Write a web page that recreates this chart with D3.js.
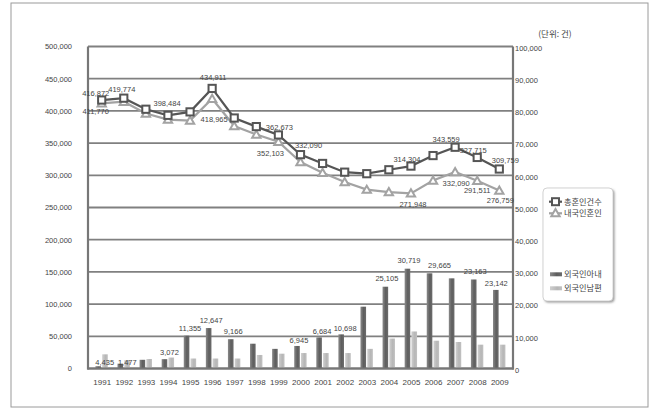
<!DOCTYPE html>
<html><head><meta charset="utf-8">
<script src="https://cdn.jsdelivr.net/npm/d3@7"></script>
<style>
html,body{margin:0;padding:0;background:#fff;}
svg text{font-family:"Liberation Sans","Noto Sans CJK KR",sans-serif;fill:#444;}
</style></head>
<body><svg id="c" width="664" height="416"></svg>
<script>
// ---- data ----
const years = [1991,1992,1993,1994,1995,1996,1997,1998,1999,2000,2001,2002,2003,2004,2005,2006,2007,2008,2009];
const totalMarriages = [416872,419774,402593,393121,398484,434911,388960,375616,362673,332090,318407,304877,302503,308598,314304,330634,343559,327715,309759];
const domesticMarriages = [411800,414240,396048,386505,384990,418965,376512,363428,352103,320485,303884,289675,277727,273958,271948,291875,305068,291511,276459];
const foreignWife = [700,1500,2700,2900,10200,12560,9100,7700,6100,7000,9650,10600,19200,25400,31000,29560,28000,27650,24400];
const foreignHusband = [4400,2600,2950,3400,3100,3100,3100,4200,4600,4800,4800,4800,6100,9300,11500,8630,8230,7400,7400];
const leftTicks = [0,50000,100000,150000,200000,250000,300000,350000,400000,450000,500000];
const rightTicks = [0,10000,20000,30000,40000,50000,60000,70000,80000,90000,100000];
const seriesNames = ["총혼인건수","내국인혼인","외국인아내","외국인남편"];
const unitLabel = "(단위: 건)";
const totalLabels = [[1991,"416,872"],[1992,"419,774"],[1995,"398,484"],[1996,"434,911"],[1999,"362,673"],[2000,"332,090"],[2005,"314,304"],[2007,"343,559"],[2008,"327,715"],[2009,"309,759"]];
const domesticLabels = [[1991,"411,770"],[1996,"418,965"],[1999,"352,103"],[2005,"271,948"],[2007,"332,090"],[2008,"291,511"],[2009,"276,759"]];
const wifeLabels = [[1991,"4,435"],[1992,"1,477"],[1994,"3,072"],[1995,"11,355"],[1996,"12,647"],[1997,"9,166"],[2000,"6,945"],[2001,"6,684"],[2002,"10,698"],[2004,"25,105"],[2005,"30,719"],[2006,"29,665"],[2008,"23,163"],[2009,"23,142"]];

// ---- layout (label nudges, px) ----
const totalNudge = {1991:[-6,-7],1992:[-2,-8.5],1995:[-23,-9],1996:[1,-11],1999:[1,-8],2000:[8,-9],2005:[-4,-7],2007:[-9,-8],2008:[-4,-7],2009:[6,-9]};
const domNudge = {1991:[-6,8],1996:[2,21],1999:[-8,12],2005:[2,11],2007:[1,11],2008:[0,10],2009:[1,10]};
const wifeNudge = {1991:[3,-4],1992:[3.5,-1.5],1994:[1.5,-7],1995:[0,-7],1996:[-1,-8],1997:[-1,-8],2000:[-1.5,-6],2001:[-0.5,-6],2002:[0.5,-6],2004:[-2,-8],2005:[-2,-8],2006:[6.5,-8],2008:[-2,-8],2009:[-3,-7]};

const svg = d3.select("#c");
const L = 88, R = 513, T = 46.5, B = 368.5;
const x = d3.scalePoint().domain(years).range([L, R]).padding(0.62);
const yL = d3.scaleLinear().domain([0,500000]).range([B, T]);
const yR = d3.scaleLinear().domain([0,100000]).range([B, T]);

// defs
const defs = svg.append("defs");
const g1 = defs.append("linearGradient").attr("id","gDark");
g1.append("stop").attr("offset","0%").attr("stop-color","#8a8a8a");
g1.append("stop").attr("offset","55%").attr("stop-color","#5e5e5e");
g1.append("stop").attr("offset","100%").attr("stop-color","#6c6c6c");
const g2 = defs.append("linearGradient").attr("id","gLight");
g2.append("stop").attr("offset","0%").attr("stop-color","#cfcfcf");
g2.append("stop").attr("offset","60%").attr("stop-color","#b6b6b6");
g2.append("stop").attr("offset","100%").attr("stop-color","#c2c2c2");
const sh = defs.append("filter").attr("id","shadow").attr("x","-20%").attr("y","-20%").attr("width","140%").attr("height","140%");
sh.append("feGaussianBlur").attr("stdDeviation",1.2);

// outer frame
svg.append("rect").attr("x",11).attr("y",3).attr("width",637).attr("height",404)
  .attr("fill","none").attr("stroke","#9a9a9a").attr("stroke-width",1);

// gridlines
svg.append("g").selectAll("line").data(leftTicks).join("line")
  .attr("x1",L).attr("x2",R).attr("y1",d=>yL(d)).attr("y2",d=>yL(d))
  .attr("stroke","#808080").attr("stroke-width",1.8);
// plot frame verticals
svg.append("line").attr("x1",L).attr("x2",L).attr("y1",T).attr("y2",B+1).attr("stroke","#777").attr("stroke-width",2.2);
svg.append("line").attr("x1",R).attr("x2",R).attr("y1",T).attr("y2",B+1).attr("stroke","#777").attr("stroke-width",2.2);

// axes
const fmt = d3.format(",");
const axL = svg.append("g").attr("transform",`translate(${L},0)`)
  .call(d3.axisLeft(yL).tickValues(leftTicks).tickFormat(fmt).tickSize(0).tickPadding(16));
const axR = svg.append("g").attr("transform",`translate(${R},0)`)
  .call(d3.axisRight(yR).tickValues(rightTicks).tickFormat(fmt).tickSize(0).tickPadding(2));
const axB = svg.append("g").attr("transform",`translate(0,${B})`)
  .call(d3.axisBottom(x).tickSize(0).tickPadding(10.5));
[axL,axR,axB].forEach(a=>{a.select(".domain").remove();a.selectAll("text").attr("font-size",7.5).attr("fill","#444").style("font-family","Liberation Sans");});
axB.selectAll("text").attr("font-size",8);
axR.selectAll("text").attr("dy","0.5em");

// bars
const bw = 5.6;
svg.append("g").selectAll("rect").data(years).join("rect")
  .attr("x",(d)=>x(d)-bw-0.7).attr("width",bw)
  .attr("y",(d,i)=>yR(foreignWife[i])).attr("height",(d,i)=>B-yR(foreignWife[i]))
  .attr("fill","url(#gDark)");
svg.append("g").selectAll("rect").data(years).join("rect")
  .attr("x",(d)=>x(d)+0.5).attr("width",bw)
  .attr("y",(d,i)=>yR(foreignHusband[i])).attr("height",(d,i)=>B-yR(foreignHusband[i]))
  .attr("fill","url(#gLight)");
// bottom axis line over bars
svg.append("line").attr("x1",L-1).attr("x2",R+1).attr("y1",B).attr("y2",B).attr("stroke","#777").attr("stroke-width",2.2);

// lines
const lineGen = d3.line().x(d=>x(d[0])).y(d=>yL(d[1]));
const domPts = years.map((y,i)=>[y,domesticMarriages[i]]);
const totPts = years.map((y,i)=>[y,totalMarriages[i]]);
const triPath = d3.symbol().type(d3.symbolTriangle).size(30);
svg.append("path").datum(domPts).attr("d",lineGen).attr("fill","none").attr("stroke","#a3a3a3").attr("stroke-width",2.2);
svg.append("g").selectAll("path").data(domPts).join("path")
  .attr("d",triPath).attr("transform",d=>`translate(${x(d[0])},${yL(d[1])+0.8})`)
  .attr("fill","#fff").attr("stroke","#a3a3a3").attr("stroke-width",2);
svg.append("path").datum(totPts).attr("d",lineGen).attr("fill","none").attr("stroke","#555").attr("stroke-width",2.2);
svg.append("g").selectAll("rect").data(totPts).join("rect")
  .attr("x",d=>x(d[0])-3.6).attr("y",d=>yL(d[1])-3.6).attr("width",7.2).attr("height",7.2)
  .attr("fill","#fff").attr("stroke","#555").attr("stroke-width",2);

// value labels
function labels(arr, valFn, nudge, yscale){
  svg.append("g").selectAll("text").data(arr).join("text")
    .attr("x",d=>x(d[0])+nudge[d[0]][0])
    .attr("y",d=>yscale(valFn(d[0]))+nudge[d[0]][1])
    .attr("dy","0.35em").attr("text-anchor","middle").attr("font-size",7.5).attr("fill","#444")
    .text(d=>d[1]);
}
labels(totalLabels, y=>totalMarriages[years.indexOf(y)], totalNudge, yL);
labels(domesticLabels, y=>domesticMarriages[years.indexOf(y)], domNudge, yL);
labels(wifeLabels, y=>foreignWife[years.indexOf(y)], wifeNudge, yR);

// unit label
svg.append("text").attr("x",555).attr("y",34).attr("dy","0.35em").attr("text-anchor","middle")
  .attr("font-size",8.5).style("font-family","Noto Sans CJK KR").text(unitLabel);

// legend
const lg = svg.append("g");
lg.append("rect").attr("x",544.5).attr("y",189.5).attr("width",70).attr("height",113).attr("rx",4)
  .attr("fill","#999").attr("filter","url(#shadow)");
lg.append("rect").attr("x",543).attr("y",188).attr("width",70).attr("height",113).attr("rx",4)
  .attr("fill","#fff").attr("stroke","#c8c8c8").attr("stroke-width",0.8);
const legY = [201.7, 213.3, 274.3, 288.3];
// total
lg.append("line").attr("x1",549).attr("x2",562).attr("y1",legY[0]).attr("y2",legY[0]).attr("stroke","#555").attr("stroke-width",2.2);
lg.append("rect").attr("x",552).attr("y",legY[0]-3.5).attr("width",7).attr("height",7).attr("fill","#fff").attr("stroke","#555").attr("stroke-width",2);
// domestic
lg.append("line").attr("x1",549).attr("x2",562).attr("y1",legY[1]).attr("y2",legY[1]).attr("stroke","#a3a3a3").attr("stroke-width",2.2);
lg.append("path").attr("d",triPath).attr("transform",`translate(555.5,${legY[1]+0.5})`).attr("fill","#fff").attr("stroke","#a3a3a3").attr("stroke-width",2);
// bars
lg.append("rect").attr("x",550).attr("y",legY[2]-2).attr("width",12).attr("height",4).attr("fill","url(#gDark)");
lg.append("rect").attr("x",550).attr("y",legY[3]-2).attr("width",12).attr("height",4).attr("fill","url(#gLight)");
lg.selectAll("text.lt").data(seriesNames).join("text").attr("class","lt")
  .attr("x",564).attr("y",(d,i)=>legY[i]).attr("dy","0.35em").attr("font-size",8.2)
  .style("font-family","Noto Sans CJK KR").attr("fill","#333").text(d=>d);
</script></body></html>
